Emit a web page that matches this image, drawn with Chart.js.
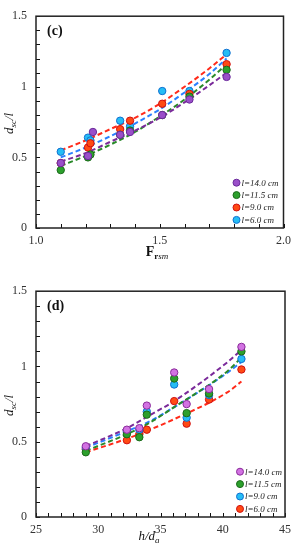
<!DOCTYPE html>
<html>
<head>
<meta charset="utf-8">
<script src="https://cdn.jsdelivr.net/npm/chart.js@4.4.0/dist/chart.umd.min.js"></script>
<style>
html, body { margin:0; padding:0; background:#fff; }
.box { position:absolute; left:0; width:297px; height:275px; }
</style>
</head>
<body>
<div class="box" style="top:0"><canvas id="chartC" width="297" height="275"></canvas></div>
<div class="box" style="top:275px"><canvas id="chartD" width="297" height="275"></canvas></div>
<script>
// panel (c): measured points, x = Frsm
var cX    = [1.10, 1.21, 1.22, 1.34, 1.38, 1.51, 1.62, 1.77];
var cX14  = [1.10, 1.21, 1.23, 1.34, 1.38, 1.51, 1.62, 1.77];
var cL14  = [0.46, 0.51, 0.68, 0.66, 0.68, 0.80, 0.91, 1.07];
var cL115 = [0.41, 0.50, 0.52, 0.66, 0.69, 0.80, 0.93, 1.12];
var cL9   = [0.46, 0.57, 0.60, 0.70, 0.76, 0.88, 0.95, 1.16];
var cL6   = [0.54, 0.64, 0.62, 0.76, 0.72, 0.97, 0.97, 1.24];
// panel (c): fitted curves
var cFitX    = [1.10, 1.20, 1.30, 1.40, 1.50, 1.60, 1.70, 1.77];
var cFit14   = [0.47, 0.53, 0.61, 0.69, 0.78, 0.89, 1.01, 1.10];
var cFit115  = [0.44, 0.51, 0.59, 0.68, 0.79, 0.91, 1.05, 1.16];
var cFit9    = [0.55, 0.62, 0.70, 0.78, 0.88, 1.00, 1.13, 1.23];
var cFit6    = [0.50, 0.57, 0.65, 0.74, 0.84, 0.96, 1.09, 1.20];

// panel (d): measured points, x = h/da
var dX    = [29.0, 32.3, 33.3, 33.9, 36.1, 37.1, 38.9, 41.5];
var dL14  = [0.47, 0.58, 0.59, 0.74, 0.96, 0.75, 0.85, 1.13];
var dL115 = [0.43, 0.55, 0.53, 0.68, 0.92, 0.69, 0.82, 1.10];
var dL9   = [0.46, 0.57, 0.58, 0.70, 0.88, 0.66, 0.81, 1.05];
var dL6   = [0.45, 0.51, 0.55, 0.58, 0.77, 0.62, 0.78, 0.98];
// panel (d): fitted curves
var dFitX   = [29.0, 32.3, 34.0, 36.1, 40.4, 41.5];
var dFit14  = [0.47, 0.59, 0.67, 0.77, 1.03, 1.11];
var dFit115 = [0.44, 0.55, 0.62, 0.73, 0.97, 1.06];
var dFit9   = [0.46, 0.57, 0.63, 0.73, 0.96, 1.03];
var dFit6   = [0.43, 0.52, 0.575, 0.65, 0.83, 0.90];

var legendLabels = ["l=14.0 cm", "l=11.5 cm", "l=9.0 cm", "l=6.0 cm"];

var SERIF = '"Liberation Serif", "Times New Roman", serif';

function pts(xs, ys) {
    return xs.map(function (x, i) { return { x: x, y: ys[i] }; });
}

function pointSet(label, xs, ys, fill, edge) {
    return {
        label: label, data: pts(xs, ys), showLine: false,
        backgroundColor: fill, borderColor: edge, borderWidth: 1,
        pointRadius: 3.7, pointHoverRadius: 3.7, order: 1
    };
}

function fitSet(xs, ys, color) {
    return {
        label: '', data: pts(xs, ys), showLine: true, fill: false,
        borderColor: color, borderWidth: 2, borderDash: [5, 3],
        pointRadius: 0, cubicInterpolationMode: 'monotone', order: 5
    };
}

// frame, inward ticks, titles, panel letter and legend
var decor = {
    id: 'decor',
    afterDraw: function (chart, args, o) {
        var ctx = chart.ctx, a = chart.chartArea;
        var sx = chart.scales.x, sy = chart.scales.y;
        ctx.save();
        ctx.strokeStyle = '#111';
        ctx.lineWidth = 1;
        var xv = [], yv = [];
        for (var v = sx.min; v <= sx.max + 1e-9; v += o.xStep) xv.push(v);
        for (var w0 = sy.min; w0 <= sy.max + 1e-9; w0 += 0.1) yv.push(w0);
        xv.forEach(function (v) {
            var px = Math.round(sx.getPixelForValue(v)) + 0.5;
            ctx.beginPath(); ctx.moveTo(px, a.bottom); ctx.lineTo(px, a.bottom - 4); ctx.stroke();
        });
        yv.forEach(function (v) {
            var py = Math.round(sy.getPixelForValue(v)) + 0.5;
            ctx.beginPath(); ctx.moveTo(a.left, py); ctx.lineTo(a.left + 4, py); ctx.stroke();
        });
        ctx.strokeStyle = '#222';
        ctx.lineWidth = 1.5;
        ctx.strokeRect(a.left, a.top, a.right - a.left, a.bottom - a.top);

        ctx.fillStyle = '#111';
        ctx.textBaseline = 'middle';
        ctx.font = 'bold 14px ' + SERIF;
        ctx.fillText(o.panel, a.left + 11, a.top + 15);

        // legend
        ctx.font = 'italic 9px ' + SERIF;
        o.legend.forEach(function (it, i) {
            var y = a.bottom - 45.3 + i * 12.4;
            var x = a.right - o.legendDx;
            ctx.beginPath();
            ctx.arc(x, y, 3.5, 0, Math.PI * 2);
            ctx.fillStyle = it.fill; ctx.fill();
            ctx.strokeStyle = it.edge; ctx.lineWidth = 1; ctx.stroke();
            ctx.fillStyle = '#222';
            ctx.fillText(it.text, x + 5, y + 0.5);
        });

        // y title d_sc/l
        ctx.save();
        ctx.translate(13, (a.top + a.bottom) / 2 + 12);
        ctx.rotate(-Math.PI / 2);
        ctx.textBaseline = 'alphabetic';
        ctx.fillStyle = '#111';
        var xx = 0;
        ctx.font = 'italic 13px ' + SERIF; ctx.fillText('d', xx, 0); xx += ctx.measureText('d').width;
        ctx.font = 'italic 9px ' + SERIF; ctx.fillText('sc', xx, 3); xx += ctx.measureText('sc').width;
        ctx.font = 'italic 13px ' + SERIF; ctx.fillText('/l', xx, 0);
        ctx.restore();

        // x title
        ctx.textBaseline = 'alphabetic';
        ctx.fillStyle = '#111';
        var parts = o.xTitle, w = 0;
        parts.forEach(function (p) { ctx.font = p.f + SERIF; w += ctx.measureText(p.t).width; });
        var x0 = o.xTitleCx - w / 2;
        parts.forEach(function (p) {
            ctx.font = p.f + SERIF;
            ctx.fillText(p.t, x0, o.xTitleY + p.dy);
            x0 += ctx.measureText(p.t).width;
        });
        ctx.restore();
    }
};

function half(v) { return Math.abs(v * 2 - Math.round(v * 2)) < 1e-6; }

function makeChart(id, datasets, xr, yAxisH, pad, plug) {
    return new Chart(document.getElementById(id), {
        type: 'scatter',
        data: { datasets: datasets },
        options: {
            responsive: false,
            animation: false,
            events: [],
            layout: { padding: pad },
            plugins: { legend: { display: false }, tooltip: { enabled: false }, decor: plug },
            scales: {
                x: {
                    type: 'linear', min: xr.min, max: xr.max,
                    grid: { display: false, drawTicks: false }, border: { display: false },
                    ticks: {
                        stepSize: xr.step, autoSkip: false, maxRotation: 0, padding: 6,
                        color: '#333', font: { family: SERIF, size: 12 },
                        callback: xr.fmt
                    },
                    afterFit: function (s) { s.height = yAxisH; }
                },
                y: {
                    min: 0, max: 1.5,
                    grid: { display: false, drawTicks: false }, border: { display: false },
                    ticks: {
                        stepSize: 0.5, autoSkip: false, padding: 9,
                        color: '#333', font: { family: SERIF, size: 12 },
                        callback: function (v) { return String(Math.round(v * 10) / 10); }
                    },
                    afterFit: function (s) { s.width = 36; }
                }
            }
        },
        plugins: [decor]
    });
}

var P = { fill: '#9a4fc9', edge: '#6a2a9a' };
var P2 = { fill: '#d272e2', edge: '#8a2a9a' };
var G = { fill: '#2ca02c', edge: '#1a6a1a' };
var R = { fill: '#ff4a14', edge: '#d01010' };
var C = { fill: '#25bdf5', edge: '#1070d0' };

makeChart('chartC', [
    pointSet('l=14.0 cm', cX14, cL14, P.fill, P.edge),
    pointSet('l=11.5 cm', cX, cL115, G.fill, G.edge),
    pointSet('l=9.0 cm', cX, cL9, R.fill, R.edge),
    pointSet('l=6.0 cm', cX, cL6, C.fill, C.edge),
    fitSet(cFitX, cFit14, '#7a2a9a'),
    fitSet(cFitX, cFit115, '#2a8a2a'),
    fitSet(cFitX, cFit9, '#ff2a1a'),
    fitSet(cFitX, cFit6, '#2a80ff')
], { min: 1.0, max: 2.0, step: 0.5, fmt: function (v) { return v.toFixed(1); } },
   47, { top: 9, right: 12, left: 0, bottom: 0 },
   {
       panel: '(c)', legendDx: 47, xStep: 0.1,
       legend: [
           { text: legendLabels[0], fill: P.fill, edge: P.edge },
           { text: legendLabels[1], fill: G.fill, edge: G.edge },
           { text: legendLabels[2], fill: R.fill, edge: R.edge },
           { text: legendLabels[3], fill: C.fill, edge: C.edge }
       ],
       xTitle: [{ t: 'F', f: 'bold 14px ', dy: 0 }, { t: 'r', f: 'bold 9px ', dy: 3 }, { t: 'sm', f: 'italic 9px ', dy: 3 }],
       xTitleCx: 157, xTitleY: 256
   });

makeChart('chartD', [
    pointSet('l=14.0 cm', dX, dL14, P2.fill, P2.edge),
    pointSet('l=11.5 cm', dX, dL115, G.fill, G.edge),
    pointSet('l=9.0 cm', dX, dL9, C.fill, C.edge),
    pointSet('l=6.0 cm', dX, dL6, R.fill, R.edge),
    fitSet(dFitX, dFit14, '#7a2a9a'),
    fitSet(dFitX, dFit115, '#2a8a2a'),
    fitSet(dFitX, dFit9, '#2a80ff'),
    fitSet(dFitX, dFit6, '#ff2a1a')
], { min: 25, max: 45, step: 5, fmt: function (v) { return String(v); } },
   33, { top: 15, right: 9.5, left: 0, bottom: 0 },
   {
       panel: '(d)', legendDx: 45, xStep: 1,
       legend: [
           { text: legendLabels[0], fill: P2.fill, edge: P2.edge },
           { text: legendLabels[1], fill: G.fill, edge: G.edge },
           { text: legendLabels[2], fill: C.fill, edge: C.edge },
           { text: legendLabels[3], fill: R.fill, edge: R.edge }
       ],
       xTitle: [{ t: 'h/d', f: 'italic 13px ', dy: 0 }, { t: 'a', f: 'italic 9px ', dy: 3 }],
       xTitleCx: 149, xTitleY: 265
   });
</script>
</body>
</html>
